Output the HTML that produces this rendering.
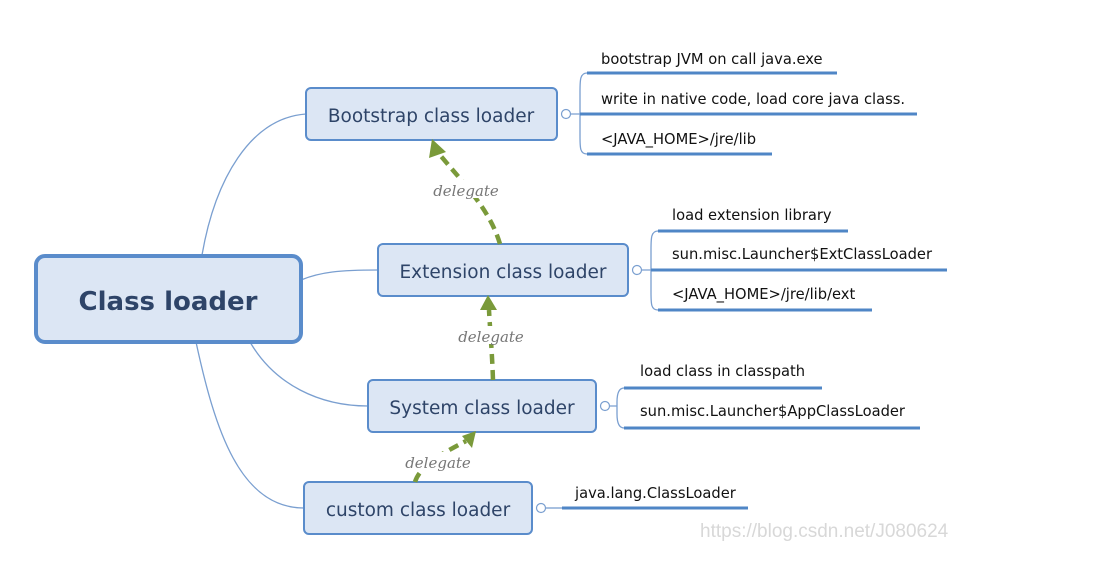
<!DOCTYPE html>
<html><head><meta charset="utf-8"><style>
html,body{margin:0;padding:0;background:#fff;}
svg{display:block}
.t{font-family:"DejaVu Sans","Liberation Sans",sans-serif;fill:#2e4468;}
.l{font-family:"DejaVu Sans","Liberation Sans",sans-serif;font-size:14.7px;fill:#111;}
.d{font-family:"DejaVu Serif","Liberation Serif",serif;font-style:italic;font-size:15px;fill:#777;}
</style></head><body>
<svg width="1115" height="574" viewBox="0 0 1115 574">
<g fill="none" stroke="#7a9fd0" stroke-width="1.3">
<path d="M202 255 C215 180 250 118 306 114"/>
<path d="M301 280 C320 272 340 270 378 270"/>
<path d="M250 342 C275 385 320 406 368 406"/>
<path d="M196 342 C215 430 240 508 304 508"/>
<path d="M587 73 C580 73 580 80 580 92 L580 136 C580 148 580 154 587 154 M571 114 L580 114"/>
<path d="M658 231 C651 231 651 238 651 250 L651 292 C651 304 651 310 658 310 M642 270 L651 270"/>
<path d="M624 388 C618 388 617 395 617 402 L617 414 C617 421 618 428 624 428 M610 406 L617 406"/>
<path d="M546 508 L562 508"/>
</g>
<g stroke="#4f86c6" stroke-width="3">
<line x1="587" y1="73" x2="837" y2="73"/><line x1="580" y1="114" x2="917" y2="114"/><line x1="587" y1="154" x2="772" y2="154"/>
<line x1="658" y1="231" x2="848" y2="231"/><line x1="651" y1="270" x2="947" y2="270"/><line x1="658" y1="310" x2="872" y2="310"/>
<line x1="624" y1="388" x2="822" y2="388"/><line x1="624" y1="428" x2="920" y2="428"/>
<line x1="562" y1="508" x2="748" y2="508"/>
</g>
<g fill="#fff" stroke="#7a9fd0" stroke-width="1.2">
<circle cx="566" cy="114" r="4.5"/><circle cx="637" cy="270" r="4.5"/><circle cx="605" cy="406" r="4.5"/><circle cx="541" cy="508" r="4.5"/>
</g>
<g fill="#dce6f4" stroke="#5a8ccb">
<rect x="36" y="256" width="265" height="86" rx="9" stroke-width="4"/>
<rect x="306" y="88" width="251" height="52" rx="5" stroke-width="2"/>
<rect x="378" y="244" width="250" height="52" rx="5" stroke-width="2"/>
<rect x="368" y="380" width="228" height="52" rx="5" stroke-width="2"/>
<rect x="304" y="482" width="228" height="52" rx="5" stroke-width="2"/>
</g>
<text class="t" x="168" y="310" font-size="26" font-weight="bold" text-anchor="middle" fill="#3a5a8c">Class loader</text>
<text class="t" x="431" y="122" font-size="18.5" text-anchor="middle">Bootstrap class loader</text>
<text class="t" x="503" y="278" font-size="18.5" text-anchor="middle">Extension class loader</text>
<text class="t" x="482" y="414" font-size="18.5" text-anchor="middle">System class loader</text>
<text class="t" x="418" y="516" font-size="18.5" text-anchor="middle">custom class loader</text>
<text class="l" x="601" y="64">bootstrap JVM on call java.exe</text>
<text class="l" x="601" y="104">write in native code, load core java class.</text>
<text class="l" x="601" y="144">&lt;JAVA_HOME&gt;/jre/lib</text>
<text class="l" x="672" y="220">load extension library</text>
<text class="l" x="672" y="259">sun.misc.Launcher$ExtClassLoader</text>
<text class="l" x="672" y="299">&lt;JAVA_HOME&gt;/jre/lib/ext</text>
<text class="l" x="640" y="376">load class in classpath</text>
<text class="l" x="640" y="416">sun.misc.Launcher$AppClassLoader</text>
<text class="l" x="575" y="498">java.lang.ClassLoader</text>
<g fill="none" stroke="#7a9a3a" stroke-width="4.5" stroke-dasharray="10,6">
<path d="M500 244 C490 210 465 185 440 155"/>
<path d="M493 380 C492 350 490 330 489 310"/>
<path d="M415 482 C420 465 445 452 466 441"/>
</g>
<g fill="#7a9a3a">
<polygon points="432,139 429,158 446,152"/>
<polygon points="488,295 480,310 497,310"/>
<polygon points="476,431 462,436 472,448"/>
</g>
<g fill="#fff">
<rect x="428" y="180" width="76" height="18"/><rect x="454" y="326" width="74" height="18"/><rect x="402" y="452" width="74" height="18"/>
</g>
<text class="d" x="466" y="196" text-anchor="middle">delegate</text>
<text class="d" x="491" y="342" text-anchor="middle">delegate</text>
<text class="d" x="438" y="468" text-anchor="middle">delegate</text>
<text x="700" y="537" font-family="Liberation Sans,sans-serif" font-size="19" fill="#d8d8d8">https://blog.csdn.net/J080624</text>
</svg>
</body></html>
